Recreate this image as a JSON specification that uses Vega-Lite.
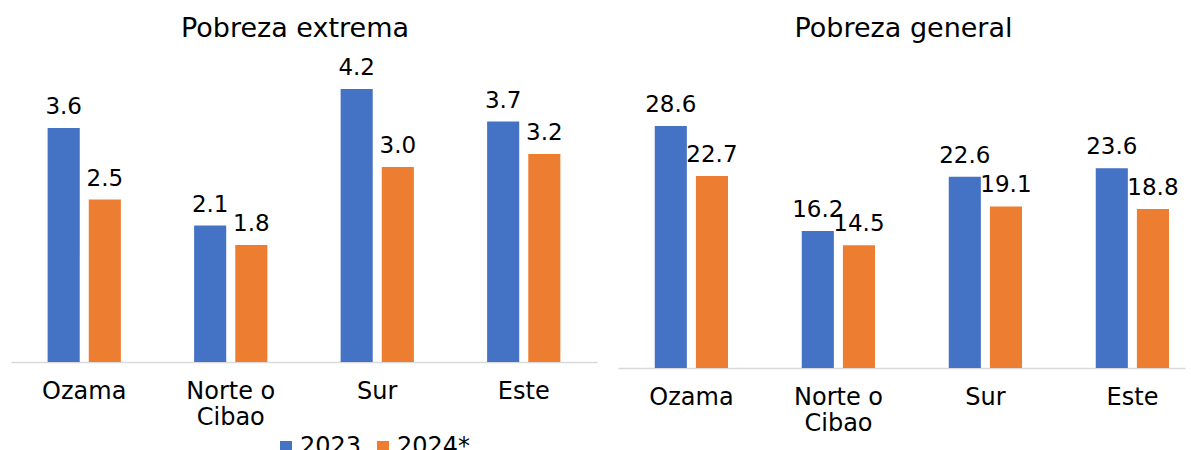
{
  "$schema": "https://vega.github.io/schema/vega-lite/v6.json",
  "padding": {"left": 11, "top": 15, "right": 5, "bottom": 0},
  "spacing": 21,
  "background": "white",
  "config": {
    "view": {"stroke": null},
    "font": "DejaVu Sans",
    "title": {"fontSize": 27, "fontWeight": "normal", "color": "#000000", "offset": 9, "font": "DejaVu Sans", "anchor": "middle"},
    "axisX": {
      "domainColor": "#d9d9d9", "domainWidth": 1.5, "ticks": false, "labelAngle": 0,
      "labelFontSize": 24, "labelColor": "#000000", "labelPadding": 17, "title": null,
      "labelLineHeight": 26, "labelFont": "DejaVu Sans", "labelLimit": 0,
      "labelExpr": "datum.value == 'Norte o Cibao' ? ['Norte o', 'Cibao'] : datum.value"
    }
  },
  "datasets": {
    "extrema": [
      {"region": "Ozama", "anio": "2023", "valor": 3.6},
      {"region": "Ozama", "anio": "2024*", "valor": 2.5},
      {"region": "Norte o Cibao", "anio": "2023", "valor": 2.1},
      {"region": "Norte o Cibao", "anio": "2024*", "valor": 1.8},
      {"region": "Sur", "anio": "2023", "valor": 4.2},
      {"region": "Sur", "anio": "2024*", "valor": 3.0},
      {"region": "Este", "anio": "2023", "valor": 3.7},
      {"region": "Este", "anio": "2024*", "valor": 3.2}
    ],
    "general": [
      {"region": "Ozama", "anio": "2023", "valor": 28.6},
      {"region": "Ozama", "anio": "2024*", "valor": 22.7},
      {"region": "Norte o Cibao", "anio": "2023", "valor": 16.2},
      {"region": "Norte o Cibao", "anio": "2024*", "valor": 14.5},
      {"region": "Sur", "anio": "2023", "valor": 22.6},
      {"region": "Sur", "anio": "2024*", "valor": 19.1},
      {"region": "Este", "anio": "2023", "valor": 23.6},
      {"region": "Este", "anio": "2024*", "valor": 18.8}
    ]
  },
  "resolve": {"legend": {"color": "independent"}},
  "hconcat": [
    {
      "width": 586,
      "height": 310,
      "title": {"text": "Pobreza extrema", "dx": -9},
      "data": {"name": "extrema"},
      "encoding": {
        "x": {"field": "region", "type": "nominal", "sort": ["Ozama", "Norte o Cibao", "Sur", "Este"], "scale": {"paddingInner": 0.5, "paddingOuter": 0.25}},
        "xOffset": {"field": "anio", "type": "nominal", "scale": {"paddingInner": 0.22, "paddingOuter": 0}},
        "y": {"field": "valor", "type": "quantitative", "scale": {"domain": [0, 4.77], "nice": false, "zero": true}, "axis": null}
      },
      "layer": [
        {
          "mark": {"type": "bar"},
          "encoding": {
            "color": {
              "field": "anio", "type": "nominal",
              "scale": {"domain": ["2023", "2024*"], "range": ["#4472C4", "#ED7D31"]},
              "legend": {
                "orient": "none", "legendX": 263, "legendY": 383, "direction": "horizontal",
                "title": null, "symbolType": "square", "symbolSize": 144, "symbolStrokeWidth": 0,
                "symbolOpacity": 1, "labelFontSize": 24, "labelFont": "DejaVu Sans", "labelColor": "#000000",
                "columnPadding": 9, "labelOffset": 2
              }
            }
          }
        },
        {
          "mark": {"type": "text", "baseline": "alphabetic", "dy": -14, "fontSize": 23, "color": "#000000"},
          "encoding": {"text": {"field": "valor", "type": "quantitative", "format": ".1f"}}
        }
      ]
    },
    {
      "width": 567,
      "height": 316,
      "title": {"text": "Pobreza general", "dx": 2},
      "data": {"name": "general"},
      "encoding": {
        "x": {"field": "region", "type": "nominal", "sort": ["Ozama", "Norte o Cibao", "Sur", "Este"], "scale": {"paddingInner": 0.5, "paddingOuter": 0.1786, "align": 0.7}},
        "xOffset": {"field": "anio", "type": "nominal", "scale": {"paddingInner": 0.2, "paddingOuter": 0}},
        "y": {"field": "valor", "type": "quantitative", "scale": {"domain": [0, 37.35], "nice": false, "zero": true}, "axis": null}
      },
      "layer": [
        {
          "mark": {"type": "bar"},
          "encoding": {
            "color": {
              "field": "anio", "type": "nominal",
              "scale": {"domain": ["2023", "2024*"], "range": ["#4472C4", "#ED7D31"]},
              "legend": null
            }
          }
        },
        {
          "mark": {"type": "text", "baseline": "alphabetic", "dy": -14, "fontSize": 23, "color": "#000000"},
          "encoding": {"text": {"field": "valor", "type": "quantitative", "format": ".1f"}}
        }
      ]
    }
  ]
}
